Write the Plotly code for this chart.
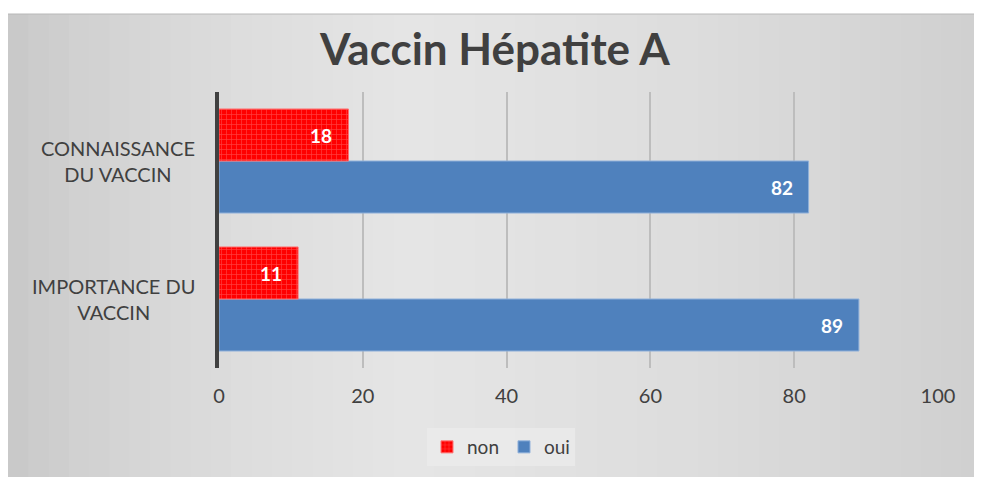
import plotly.graph_objects as go

# data
categories = ["IMPORTANCE DU<br>VACCIN", "CONNAISSANCE<br>DU VACCIN"]
non_values = [11, 18]
oui_values = [89, 82]
x_ticks = [0, 20, 40, 60, 80, 100]

# page has an 8px body margin; figure coordinates = page coordinates - 8
W, H = 974, 469
L, R, T, B = 211, 44, 84, 109
PW = W - L - R
PH = H - T - B


def px_x(p):
    return (p - L) / PW


def px_y(p):
    return (H - B - p) / PH


FONT = "Lato, 'Open Sans', sans-serif"
TXT = "#404040"

fig = go.Figure()

# oui first so non sits on top of each group
fig.add_trace(go.Bar(
    y=categories, x=oui_values, name="oui", orientation="h",
    marker=dict(color="#4f81bd", line=dict(color="#8fb0da", width=1)),
))
fig.add_trace(go.Bar(
    y=categories, x=non_values, name="non", orientation="h",
    marker=dict(color="#ff0000", line=dict(color="#ff7070", width=1),
                pattern=dict(shape="+", size=5, solidity=0.25,
                             fgcolor="#ff8080", bgcolor="#ff0000")),
))

# value labels, right-aligned inside bar ends
annotations = []
for cat, v in zip(categories, non_values):
    annotations.append(dict(x=v, y=cat, xref="x", yref="y", text=f"<b>{v}</b>",
                            showarrow=False, xanchor="right", xshift=-14, yshift=26,
                            font=dict(color="white", size=19, family=FONT)))
for cat, v in zip(categories, oui_values):
    annotations.append(dict(x=v, y=cat, xref="x", yref="y", text=f"<b>{v}</b>",
                            showarrow=False, xanchor="right", xshift=-14, yshift=-26,
                            font=dict(color="white", size=19, family=FONT)))
# category labels, lines centred
for cat in categories:
    annotations.append(dict(x=px_x(189), y=cat, xref="paper", yref="y", text=cat,
                            showarrow=False, xanchor="right", align="center",
                            font=dict(color=TXT, size=20, family=FONT)))

# gradient-ish grey background made of vertical strips
shapes = []
n = 48
x_start, x_end = 0, W
for i in range(n):
    a = x_start + (x_end - x_start) * i / n
    b = x_start + (x_end - x_start) * (i + 1) / n + 1
    mid = (a + b) / 2
    t = (mid - x_start) / (x_end - x_start)
    if t < 0.4:
        g = 197 + (229 - 197) * (t / 0.4) ** 0.6
    else:
        g = 229 - (229 - 208) * ((t - 0.4) / 0.6) ** 1.3
    g = int(round(g))
    shapes.append(dict(
        type="rect", xref="paper", yref="paper", layer="below",
        x0=px_x(a), x1=px_x(b), y0=px_y(H + 2), y1=px_y(6),
        fillcolor=f"rgb({g},{g},{g})", line=dict(width=0),
    ))
shapes.append(dict(
    type="line", xref="paper", yref="paper", layer="below",
    x0=px_x(0), x1=px_x(W + 2), y0=px_y(6), y1=px_y(6),
    line=dict(color="#b8b8b8", width=1),
))

fig.update_layout(
    width=W, height=H,
    margin=dict(l=L, r=R, t=T, b=B, autoexpand=False),
    paper_bgcolor="white",
    plot_bgcolor="rgba(0,0,0,0)",
    barmode="group", bargap=0.246, bargroupgap=0,
    shapes=shapes,
    annotations=annotations,
    title=dict(text="<b>Vaccin Hépatite A</b>", x=0.5, xanchor="center",
               y=1 - 42 / H, yanchor="middle", yref="container",
               font=dict(size=44, color=TXT, family=FONT)),
    font=dict(family=FONT, color=TXT, size=18),
    xaxis=dict(range=[0, 100], tickvals=x_ticks, showgrid=True,
               gridcolor="#bdbdbd", gridwidth=1.5, zeroline=False,
               ticks="", tickfont=dict(size=20, color=TXT, family=FONT),
               ticklabelstandoff=14, fixedrange=True),
    yaxis=dict(showline=True, linecolor="#404040", linewidth=4,
               ticks="", showgrid=False, showticklabels=False),
    legend=dict(orientation="h", x=px_x(493), xanchor="center",
                y=px_y(439), yanchor="middle", traceorder="reversed",
                bgcolor="rgba(236,236,236,0.7)",
                font=dict(size=19, color=TXT, family=FONT),
                itemwidth=30),
    showlegend=True,
)

fig.write_html("out.html")
